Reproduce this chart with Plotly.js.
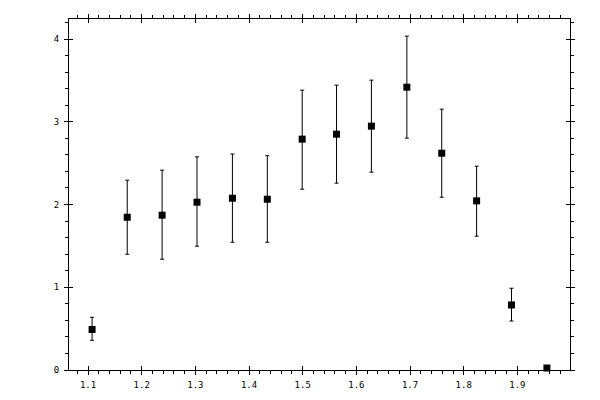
<!DOCTYPE html>
<html>
<head>
<meta charset="utf-8">
<script src="https://cdn.plot.ly/plotly-3.0.1.min.js"></script>
<style>
  body { margin: 0; background: #fff; }
  #plot { width: 600px; height: 400px; }
</style>
</head>
<body>
<div id="plot"></div>
<script>
// values
var xVals   = [1.1075, 1.173, 1.238, 1.303, 1.369, 1.434, 1.499, 1.563, 1.628, 1.694, 1.759, 1.824, 1.889, 1.955];
var yVals   = [0.49, 1.846, 1.871, 2.028, 2.076, 2.064, 2.79, 2.85, 2.947, 3.418, 2.62, 2.044, 0.786, 0.024];
var errUp   = [0.147, 0.448, 0.544, 0.548, 0.534, 0.526, 0.592, 0.593, 0.556, 0.617, 0.532, 0.419, 0.202, 0];
var errDown = [0.131, 0.447, 0.532, 0.532, 0.532, 0.52, 0.605, 0.592, 0.556, 0.616, 0.532, 0.427, 0.194, 0];

var xRange = [1.0645, 1.998];
var yRange = [0, 4.242];

var tickFont = {family: 'DejaVu Sans Mono, monospace', size: 9, color: '#000'};

var trace = {
	type: 'scatter',
	mode: 'markers',
	x: xVals,
	y: yVals,
	marker: {symbol: 'square', size: 7, color: '#000'},
	error_y: {
		type: 'data',
		symmetric: false,
		array: errUp,
		arrayminus: errDown,
		color: '#000',
		thickness: 1,
		width: 2
	},
	showlegend: false,
	cliponaxis: false
};

// dummy trace so the overlay axes get drawn
var ghost = {
	type: 'scatter', mode: 'markers',
	x: [xRange[0]], y: [yRange[0]],
	xaxis: 'x2', yaxis: 'y2',
	marker: {opacity: 0}, hoverinfo: 'skip', showlegend: false
};

var layout = {
	width: 600,
	height: 400,
	margin: {l: 69, r: 30, t: 19, b: 30, pad: 0},
	paper_bgcolor: '#fff',
	plot_bgcolor: '#fff',
	showlegend: false,
	xaxis: {
		range: xRange,
		showgrid: false, zeroline: false,
		showline: true, linecolor: '#000', linewidth: 1, mirror: 'allticks',
		tickmode: 'linear', tick0: 1.1, dtick: 0.1,
		ticks: 'outside', ticklen: 4, tickwidth: 1, tickcolor: '#000',
		minor: {dtick: 0.02, ticks: 'outside', ticklen: 3, tickwidth: 1, tickcolor: '#000', showgrid: false},
		tickfont: tickFont,
		ticklabelstandoff: 2
	},
	yaxis: {
		range: yRange,
		showgrid: false, zeroline: false,
		showline: true, linecolor: '#000', linewidth: 1, mirror: 'allticks',
		tickmode: 'linear', tick0: 0, dtick: 1,
		ticks: 'outside', ticklen: 4, tickwidth: 1, tickcolor: '#000',
		minor: {dtick: 0.2, ticks: 'outside', ticklen: 3, tickwidth: 1, tickcolor: '#000', showgrid: false},
		tickfont: tickFont,
		ticklabelstandoff: 3
	},
	// inner halves of the major ticks
	xaxis2: {
		range: xRange, overlaying: 'x', anchor: 'y',
		showgrid: false, zeroline: false, showline: false, showticklabels: false,
		tickmode: 'linear', tick0: 1.1, dtick: 0.1,
		ticks: 'inside', ticklen: 4, tickwidth: 1, tickcolor: '#000', mirror: 'ticks'
	},
	yaxis2: {
		range: yRange, overlaying: 'y', anchor: 'x',
		showgrid: false, zeroline: false, showline: false, showticklabels: false,
		tickmode: 'linear', tick0: 0, dtick: 1,
		ticks: 'inside', ticklen: 4, tickwidth: 1, tickcolor: '#000', mirror: 'ticks'
	}
};

Plotly.newPlot('plot', [trace, ghost], layout, {displayModeBar: false, staticPlot: true});
</script>
</body>
</html>
